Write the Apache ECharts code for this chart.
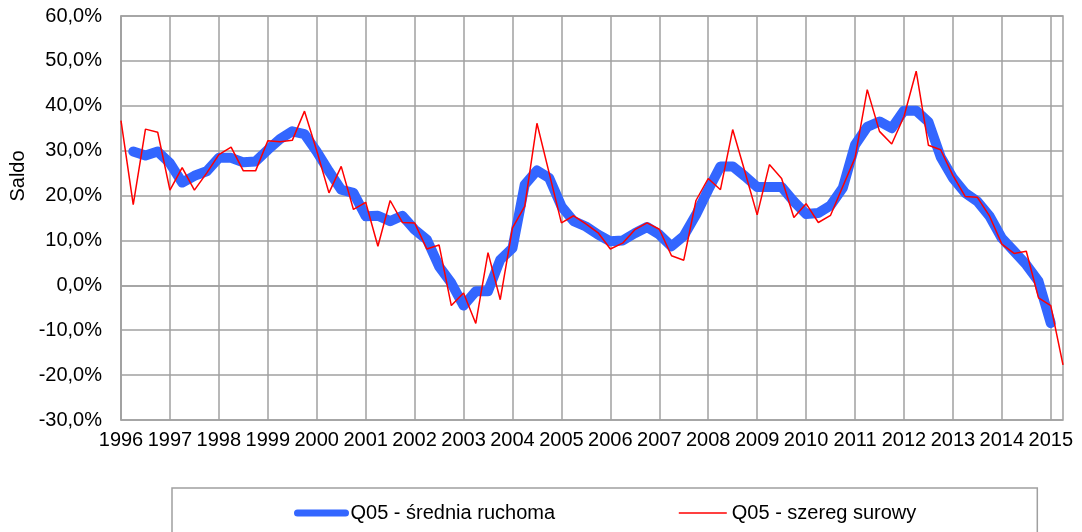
<!DOCTYPE html>
<html>
<head>
<meta charset="utf-8">
<script src="https://cdn.jsdelivr.net/npm/echarts@6/dist/echarts.min.js"></script>
<style>
  html, body { margin: 0; padding: 0; background: #fff; }
  #chart { width: 1082px; height: 532px; }
</style>
</head>
<body>
<div id="chart"></div>
<script>
'use strict';

// tick labels (years), one category per quarter
var years = ['1996', '1997', '1998', '1999', '2000', '2001', '2002', '2003', '2004', '2005',
             '2006', '2007', '2008', '2009', '2010', '2011', '2012', '2013', '2014', '2015'];
var quarters = ['Q1', 'Q2', 'Q3', 'Q4'];

// Q05 - szereg surowy (1996Q1 .. 2015Q2)
var rawSeries = [
    36.7, 18.0, 34.8, 34.1, 21.2, 26.2, 21.2, 25.0, 29.1, 30.8,
    25.5, 25.5, 32.2, 32.0, 32.3, 38.8, 30.0, 20.6, 26.5, 16.9,
    18.5, 8.7, 18.9, 14.0, 13.9, 8.1, 9.0, -4.5, -1.7, -8.5,
    7.3, -3.2, 12.8, 17.6, 36.1, 25.0, 13.9, 15.5, 13.7, 11.7,
    8.1, 9.4, 12.4, 13.9, 12.5, 6.6, 5.6, 18.9, 23.8, 21.3,
    34.7, 25.3, 15.7, 26.9, 23.8, 15.1, 18.2, 14.0, 15.6, 22.0,
    28.4, 43.6, 34.3, 31.5, 37.6, 47.7, 31.2, 30.2, 24.5, 19.8,
    19.6, 15.4, 9.2, 7.1, 7.6, -2.8, -4.5, -17.7
];

// Q05 - srednia ruchoma (1996Q2 .. 2015Q1)
var movingAvg = [
    29.8, 28.9, 29.8, 27.2, 22.9, 24.4, 25.4, 28.4, 28.4, 27.4,
    27.6, 30.2, 32.6, 34.3, 33.7, 29.8, 25.4, 21.3, 20.6, 15.4,
    15.5, 14.3, 15.5, 12.4, 10.2, 4.2, 0.5, -4.5, -1.3, -1.3,
    5.7, 8.3, 22.4, 25.6, 23.9, 17.6, 14.3, 13.1, 11.3, 9.8,
    10.0, 11.6, 13.0, 11.3, 8.7, 11.0, 15.7, 21.3, 26.5, 26.5,
    24.3, 21.9, 21.9, 21.9, 18.7, 15.9, 16.1, 17.8, 21.7, 31.3,
    35.3, 36.5, 35.0, 38.9, 38.9, 36.4, 28.6, 23.9, 20.6, 18.7,
    15.4, 10.5, 7.6, 4.6, 0.9, -8.4
];
var movingAvgOffset = 1; // first value belongs to the 2nd quarter

var categories = [];
years.forEach(function (y) {
    quarters.forEach(function (q) {
        if (categories.length < rawSeries.length) {
            categories.push(y + ' ' + q);
        }
    });
});

var avgData = categories.map(function (c, i) {
    var v = movingAvg[i - movingAvgOffset];
    return v === undefined ? null : v;
});

var FONT = 'Arial, "Liberation Sans", sans-serif';
var GRID_COLOR = '#a0a0a0';
var BLUE = '#3366ff';
var RED = '#ff0000';

var myChart = echarts.init(document.getElementById('chart'));

var option = {
    animation: false,
    textStyle: { fontFamily: FONT },
    grid: {
        left: 121,
        top: 16,
        right: 19,
        bottom: 112,
        show: true,
        borderColor: GRID_COLOR,
        borderWidth: 1.5
    },
    graphic: [{
        type: 'text',
        x: 18,
        y: 176,
        rotation: Math.PI / 2,
        style: {
            text: 'Saldo',
            font: '20px ' + FONT,
            fill: '#000',
            textAlign: 'center',
            textVerticalAlign: 'middle'
        }
    }],
    legend: {
        left: 172,
        top: 488,
        padding: [15, 121, 24, 122],
        borderColor: GRID_COLOR,
        borderWidth: 1.5,
        itemWidth: 48,
        itemHeight: 14,
        itemGap: 123,
        textStyle: { fontSize: 20, color: '#000', fontFamily: FONT },
        data: [
            {
                name: 'Q05 - średnia ruchoma',
                itemStyle: { opacity: 0 },
                lineStyle: { color: BLUE, width: 7, cap: 'round' }
            },
            {
                name: 'Q05 - szereg surowy',
                itemStyle: { opacity: 0 },
                lineStyle: { color: RED, width: 1.5 }
            }
        ]
    },
    xAxis: {
        type: 'category',
        boundaryGap: false,
        data: categories,
        axisLine: { lineStyle: { color: GRID_COLOR, width: 1.5 } },
        axisTick: { show: false },
        axisLabel: {
            interval: 3,
            margin: 10,
            fontSize: 20,
            color: '#000',
            formatter: function (v) { return v.split(' ')[0]; }
        },
        splitLine: {
            show: true,
            interval: 3,
            lineStyle: { color: GRID_COLOR, width: 1.5 }
        }
    },
    yAxis: {
        type: 'value',
        min: -30,
        max: 60,
        interval: 10,
        axisLine: { show: true, lineStyle: { color: GRID_COLOR, width: 1.5 } },
        axisTick: { show: false },
        axisLabel: {
            margin: 19,
            fontSize: 20,
            color: '#000',
            formatter: function (v) { return v.toFixed(1).replace('.', ',') + '%'; }
        },
        splitLine: { lineStyle: { color: GRID_COLOR, width: 1.5 } }
    },
    series: [
        {
            name: 'Q05 - średnia ruchoma',
            type: 'line',
            data: avgData,
            showSymbol: false,
            symbol: 'none',
            color: BLUE,
            lineStyle: { color: BLUE, width: 10, cap: 'round', join: 'round' }
        },
        {
            name: 'Q05 - szereg surowy',
            type: 'line',
            data: rawSeries,
            showSymbol: false,
            symbol: 'none',
            color: RED,
            lineStyle: { color: RED, width: 1.5 }
        }
    ]
};

myChart.setOption(option);
</script>
</body>
</html>
